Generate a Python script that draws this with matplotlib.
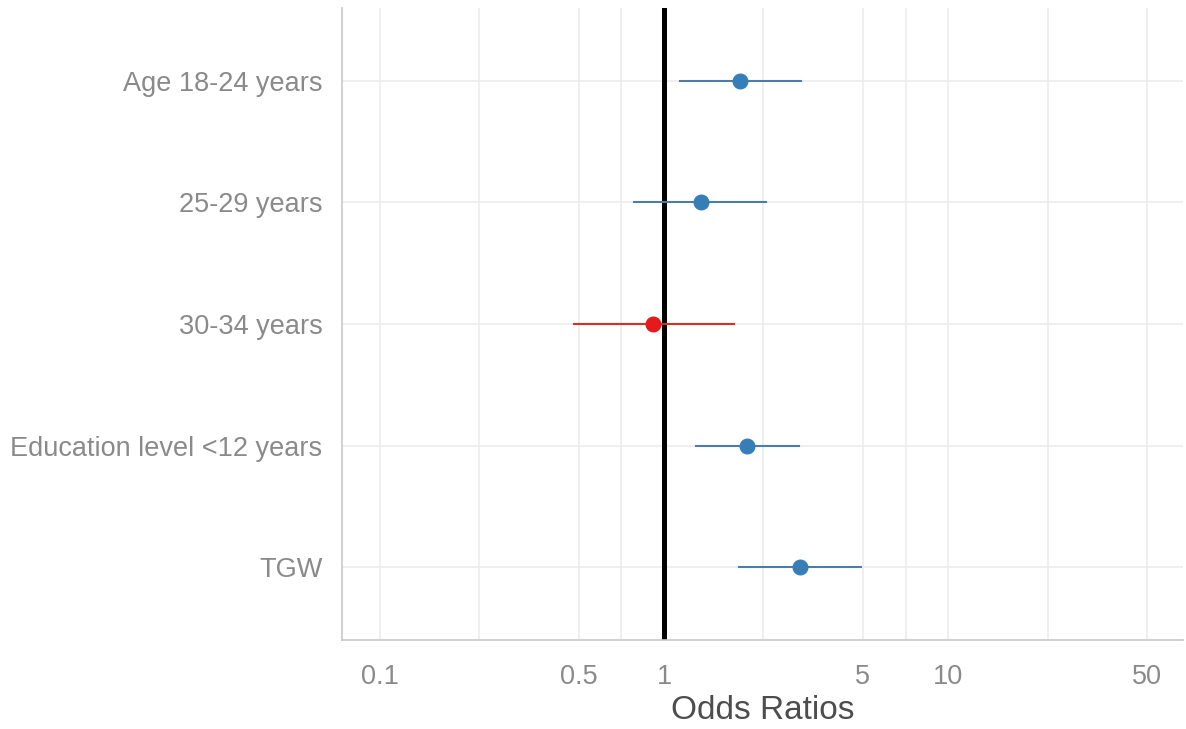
import numpy as np
import matplotlib
matplotlib.use("Agg")
import matplotlib.pyplot as plt
from matplotlib.ticker import FixedLocator, NullFormatter

# ── Data ──────────────────────────────────────────────────────────────────
labels = ["Age 18-24 years", "25-29 years", "30-34 years",
          "Education level <12 years", "TGW"]
odds = [1.85, 1.35, 0.91, 1.96, 3.01]
ci_low = [1.14, 0.78, 0.48, 1.29, 1.84]
ci_high = [3.04, 2.29, 1.76, 2.99, 4.94]
major_ticks = [0.1, 0.5, 1, 5, 10, 50]
tick_labels = ["0.1", "0.5", "1", "5", "10", "50"]

plt.rcParams["font.family"] = ["Liberation Sans", "DejaVu Sans"]

fig = plt.figure(figsize=(11.86, 7.29), dpi=100)
ax = fig.add_axes([0.2884, 0.1221, 0.7091, 0.8669])

ax.set_xscale("log")
ax.set_xlim(0.0735, 67)
n = len(labels)
ypos = np.arange(n)[::-1]
ax.set_ylim(-0.6, n - 0.4)

# minor grid halfway (in log space) between major breaks, as ggplot does
minor = [np.sqrt(a * b) for a, b in zip(major_ticks[:-1], major_ticks[1:])]
ax.xaxis.set_major_locator(FixedLocator(major_ticks))
ax.xaxis.set_minor_locator(FixedLocator(minor))
ax.xaxis.set_minor_formatter(NullFormatter())
ax.set_xticklabels(tick_labels)
ax.grid(True, which="both", axis="x", color="#ebebeb", lw=1.1, zorder=0)
ax.grid(True, which="major", axis="y", color="#ebebeb", lw=1.1, zorder=0)
ax.set_axisbelow(True)

for s in ["top", "right"]:
    ax.spines[s].set_visible(False)
for s in ["left", "bottom"]:
    ax.spines[s].set_color("#c8c8c8")
    ax.spines[s].set_linewidth(1.2)

ax.tick_params(which="both", length=0)
ax.tick_params(axis="x", labelsize=19.5, labelcolor="#8a8a8a", pad=17)
ax.tick_params(axis="y", labelsize=19.5, labelcolor="#8a8a8a", pad=14)
ax.set_yticks(ypos)
ax.set_yticklabels(labels)

ax.axvline(1, color="black", lw=3.6, zorder=2)

for y, o, lo, hi in zip(ypos, odds, ci_low, ci_high):
    col = "#e41a1c" if hi > 1 and lo < 1 and o < 1 else "#377eb8"
    lcol = "#d7301f" if col == "#e41a1c" else "#4a7ea8"
    ax.plot([lo, hi], [y, y], color=lcol, lw=1.5, zorder=3)
    ax.plot([o], [y], marker="o", ms=10.5, color=col, mec=col, zorder=4)

ax.set_xlabel("Odds Ratios", fontsize=24, color="#4d4d4d", labelpad=4)

fig.savefig("out.png", dpi=100)
